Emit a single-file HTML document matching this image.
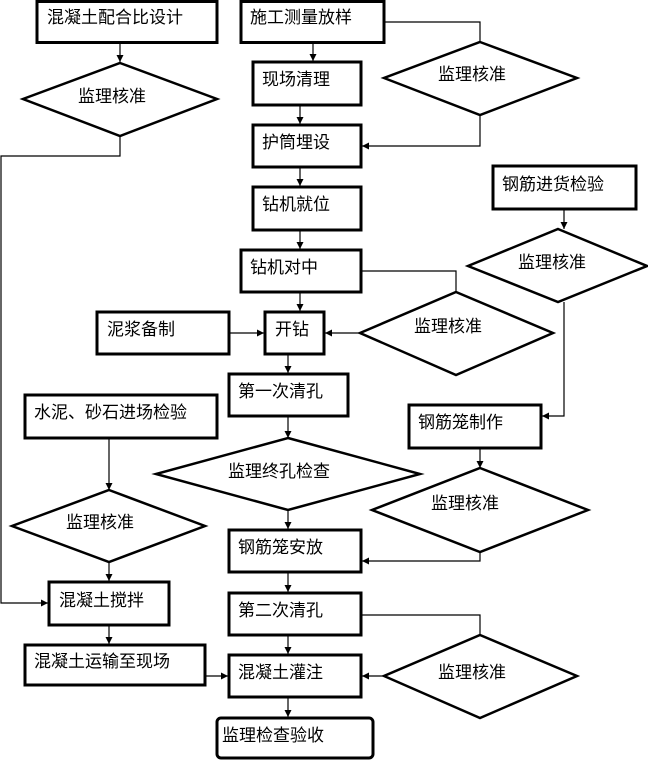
<!DOCTYPE html>
<html><head><meta charset="utf-8"><style>
html,body{margin:0;padding:0;background:#fff;}
svg{display:block;}
text{font-family:"Liberation Sans","Noto Sans CJK SC",sans-serif;font-size:17px;fill:#000;}
</style></head><body>
<svg width="648" height="760" viewBox="0 0 648 760" xmlns="http://www.w3.org/2000/svg">
<defs>
<marker id="a" markerWidth="8" markerHeight="8" refX="7" refY="4" orient="auto" markerUnits="userSpaceOnUse">
<path d="M0,0.5 L7,4 L0,7.5 Z" fill="#000"/>
</marker>
</defs>
<g fill="none" stroke="#000" stroke-width="3">
<rect x="37" y="1.5" width="180" height="41"/>
<rect x="241" y="1.5" width="143" height="41"/>
<rect x="253" y="62" width="108" height="43"/>
<rect x="253" y="125" width="108" height="42"/>
<rect x="253" y="187" width="108" height="43"/>
<rect x="241" y="250" width="120" height="42"/>
<rect x="493" y="166" width="143" height="43"/>
<rect x="97" y="312" width="132" height="42"/>
<rect x="265" y="312" width="59" height="42"/>
<rect x="229" y="374" width="119" height="42"/>
<rect x="25" y="395" width="192" height="43"/>
<rect x="409" y="405" width="132" height="43"/>
<rect x="229" y="530" width="132" height="42"/>
<rect x="49" y="582" width="120" height="43"/>
<rect x="25" y="645" width="180" height="40"/>
<rect x="229" y="593" width="132" height="42"/>
<rect x="229" y="655" width="132" height="42"/>
<rect x="217" y="718" width="156" height="40" rx="4"/>
</g>
<g fill="none" stroke="#000" stroke-width="2.5">
<polygon points="120,63 217,99 120,136 23,99"/>
<polygon points="480,42 577,78 480,115 384,78"/>
<polygon points="558,229 647,266 558,302 468,266"/>
<polygon points="456,292 553,333 456,375 360,333"/>
<polygon points="288,438 420,474 288,510 156,474"/>
<polygon points="480,468 588,510 480,552 372,510"/>
<polygon points="109,490 205,526 109,562 12,526"/>
<polygon points="480,635 577,676 480,718 384,676"/>
</g>
<g fill="none" stroke="#000" stroke-width="1.2">
<line x1="120" y1="43" x2="120" y2="62" marker-end="url(#a)"/>
<line x1="313" y1="43" x2="313" y2="61" marker-end="url(#a)"/>
<polyline points="384,22 480,22 480,42"/>
<line x1="300" y1="105" x2="300" y2="124" marker-end="url(#a)"/>
<polyline points="480,115 480,146 362,146" marker-end="url(#a)"/>
<polyline points="120,136 120,156 1,156 1,603 48,603" marker-end="url(#a)"/>
<line x1="300" y1="167" x2="300" y2="186" marker-end="url(#a)"/>
<line x1="300" y1="230" x2="300" y2="249" marker-end="url(#a)"/>
<line x1="300" y1="292" x2="300" y2="311" marker-end="url(#a)"/>
<line x1="564" y1="209" x2="564" y2="229" marker-end="url(#a)"/>
<polyline points="361,271 456,271 456,292"/>
<line x1="229" y1="333" x2="264" y2="333" marker-end="url(#a)"/>
<line x1="360" y1="333" x2="325" y2="333" marker-end="url(#a)"/>
<line x1="288" y1="354" x2="288" y2="373" marker-end="url(#a)"/>
<polyline points="564,302 564,416 542,416" marker-end="url(#a)"/>
<line x1="288" y1="416" x2="288" y2="438" marker-end="url(#a)"/>
<line x1="109" y1="438" x2="109" y2="490" marker-end="url(#a)"/>
<line x1="480" y1="448" x2="480" y2="468" marker-end="url(#a)"/>
<line x1="288" y1="510" x2="288" y2="529" marker-end="url(#a)"/>
<polyline points="480,552 480,561 362,561" marker-end="url(#a)"/>
<line x1="109" y1="562" x2="109" y2="581" marker-end="url(#a)"/>
<line x1="288" y1="572" x2="288" y2="592" marker-end="url(#a)"/>
<line x1="109" y1="625" x2="109" y2="644" marker-end="url(#a)"/>
<polyline points="361,615 480,615 480,635"/>
<line x1="288" y1="635" x2="288" y2="654" marker-end="url(#a)"/>
<line x1="205" y1="676" x2="228" y2="676" marker-end="url(#a)"/>
<line x1="384" y1="676" x2="362" y2="676" marker-end="url(#a)"/>
<line x1="288" y1="697" x2="288" y2="717" marker-end="url(#a)"/>
</g>
<text x="47" y="23">混凝土配合比设计</text>
<text x="250" y="23">施工测量放样</text>
<text x="262" y="85">现场清理</text>
<text x="262" y="148">护筒埋设</text>
<text x="262" y="210">钻机就位</text>
<text x="250" y="273">钻机对中</text>
<text x="502" y="190">钢筋进货检验</text>
<text x="107" y="335">泥浆备制</text>
<text x="275" y="335">开钻</text>
<text x="238" y="397">第一次清孔</text>
<text x="34" y="418">水泥、砂石进场检验</text>
<text x="418" y="428">钢筋笼制作</text>
<text x="238" y="553">钢筋笼安放</text>
<text x="59" y="606">混凝土搅拌</text>
<text x="34" y="667">混凝土运输至现场</text>
<text x="238" y="616">第二次清孔</text>
<text x="238" y="678">混凝土灌注</text>
<text x="222" y="741">监理检查验收</text>
<text x="78" y="102">监理核准</text>
<text x="438" y="80">监理核准</text>
<text x="518" y="268">监理核准</text>
<text x="414" y="332">监理核准</text>
<text x="228" y="477">监理终孔检查</text>
<text x="431" y="509">监理核准</text>
<text x="66" y="528">监理核准</text>
<text x="438" y="678">监理核准</text>
</svg>
</body></html>
